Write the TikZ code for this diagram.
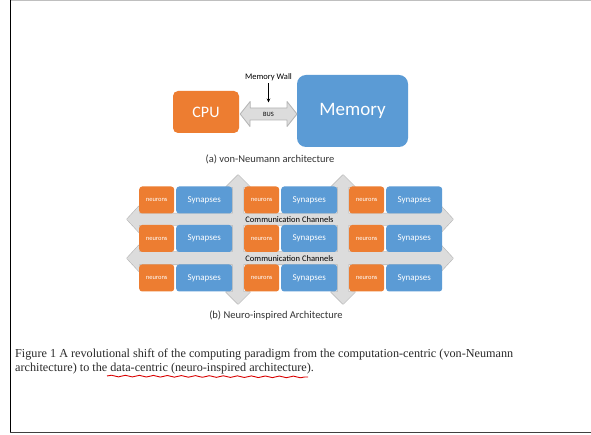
\documentclass[tikz,border=0pt]{standalone}
\usepackage{fontspec}
\setmainfont{Liberation Serif}
\newfontfamily\calibri{Carlito}
\usetikzlibrary{arrows.meta,decorations.pathmorphing}
\definecolor{procorange}{HTML}{ED7D31}
\definecolor{storeblue}{HTML}{5B9BD5}
\definecolor{chanfill}{HTML}{DCDCDC}
\definecolor{chanedge}{HTML}{B4B4B4}
\definecolor{captext}{HTML}{2A2A2A}
\tikzset{
  x=1pt, y=-1pt,
  unitbox/.style={rounded corners=3pt, inner sep=0pt, text=white, font=\calibri},
  neuronbox/.style={unitbox, fill=procorange, minimum width=35pt, minimum height=27pt, font=\calibri\fontsize{6.5}{7}\selectfont},
  synapsebox/.style={unitbox, fill=storeblue, minimum width=56pt, minimum height=27pt, font=\calibri\fontsize{9}{10}\selectfont},
  chanedgestyle/.style={draw=chanedge, line width=1.2pt, line join=round},
  chanfillstyle/.style={fill=chanfill},
  label/.style={inner sep=0pt, font=\calibri\fontsize{10.5}{12}\selectfont, text=black!80},
  chanlabel/.style={inner sep=0pt, font=\calibri\fontsize{8.5}{10}\selectfont, text=black},
  captionline/.style={anchor=base west, inner sep=0pt, text=captext, font=\fontsize{12.2}{14}\selectfont},
}
\newcommand\harrowpath[5]{% left tip x, right tip x, centre y, body half height, head half height
  (#1,#3) -- ++(12,-#5) -- ++(0,#5-#4) -- (#2-12,#3-#4) -- ++(0,#4-#5) -- (#2,#3)
  -- ++(-12,#5) -- ++(0,#4-#5) -- (#1+12,#3+#4) -- ++(0,#5-#4) -- cycle}
\newcommand\varrowpath[5]{% top tip y, bottom tip y, centre x, body half width, head half width
  (#3,#1) -- ++(#5,12) -- ++(#4-#5,0) -- (#3+#4,#2-12) -- ++(#5-#4,0) -- (#3,#2)
  -- ++(-#5,-12) -- ++(#5-#4,0) -- (#3-#4,#1+12) -- ++(#4-#5,0) -- cycle}
\begin{document}
\begin{tikzpicture}
\useasboundingbox (0,0) rectangle (591,435);
\fill[white] (0,0) rectangle (591,435);

% page frame
\draw[black!25, line width=1pt] (10,0.5) -- (591,0.5);
\draw[black, line width=1pt] (10.5,0) -- (10.5,432.5);
\draw[black!75, line width=1.2pt] (10,432.5) -- (591,432.5);

% ---------- (a) von-Neumann architecture ----------
\node[unitbox, fill=procorange, minimum width=66pt, minimum height=42pt, rounded corners=5pt,
      font=\calibri\fontsize{16}{18}\selectfont] (cpu) at (206,112) {CPU};
\node[unitbox, fill=storeblue, minimum width=111pt, minimum height=72pt, rounded corners=9pt,
      font=\calibri\fontsize{19}{22}\selectfont] (mem) at (352.5,111) {Memory};

% bus between processor and memory
\path[chanedgestyle, line width=0.8pt, fill=chanfill]
  (cpu.east) ++(1,2) coordinate (busL)
  (busL) -- ++(10,-12.5) -- ++(0,6.5) -- (287,108) -- ++(0,-6.5) -- (297,114)
  -- ++(-10,12.5) -- ++(0,-6.5) -- (250,120) -- ++(0,6.5) -- cycle;
\node[inner sep=0pt, font=\calibri\fontsize{6.5}{7}\selectfont] (bus) at (268.5,114) {BUS};
\coordinate (wallhit) at (268.5,102.5);
\node[inner sep=0pt, font=\calibri\fontsize{8.5}{10}\selectfont] (wall) at (268.5,77) {Memory Wall};
\draw[-{Stealth[length=4pt,width=3.5pt]}, line width=0.7pt] (wall.south) ++(0,2.5) -- (wallhit);

\node[label] (capa) at (270,159) {(a) von-Neumann architecture};

% ---------- (b) neuro-inspired architecture ----------
% communication channels: outlines first, then fills so crossings merge
\path[chanedgestyle] \varrowpath{175}{304}{238}{5.5}{12};
\path[chanedgestyle] \varrowpath{175}{304}{343}{5.5}{12};
\path[chanedgestyle] \harrowpath{127}{453}{219.25}{5.75}{13};
\path[chanedgestyle] \harrowpath{127}{453}{258.25}{6.25}{13};
\path[chanfillstyle] \varrowpath{175}{304}{238}{5.5}{12};
\path[chanfillstyle] \varrowpath{175}{304}{343}{5.5}{12};
\path[chanfillstyle] \harrowpath{127}{453}{219.25}{5.75}{13};
\path[chanfillstyle] \harrowpath{127}{453}{258.25}{6.25}{13};

% grid of neuron / synapse units
\foreach \r/\y in {1/200, 2/238.5, 3/278}{
  \foreach \c/\x in {1/139, 2/244, 3/349}{
    \node[neuronbox, anchor=west] (n\r\c) at (\x,\y) {neurons};
    \node[synapsebox, anchor=west] (s\r\c) at (\x+37,\y) {Synapses};
  }
}

\node[chanlabel] (ch1) at (289.5,219.5) {Communication Channels};
\node[chanlabel] (ch2) at (289.5,258.5) {Communication Channels};

\node[label] (capb) at (276,316) {(b) Neuro-inspired Architecture};

% ---------- figure caption ----------
\node[captionline] (cap1) at (15,357)
  {Figure 1 A revolutional shift of the computing paradigm from the computation-centric (von-Neumann};
\node[captionline] (cap2) at (15,371)
  {architecture) to the data-centric (neuro-inspired architecture).};
\draw[red!85!black, line width=0.9pt, decorate,
      decoration={snake, segment length=14pt, amplitude=0.8pt}] (107,376) -- (308,377);
\end{tikzpicture}
\end{document}
